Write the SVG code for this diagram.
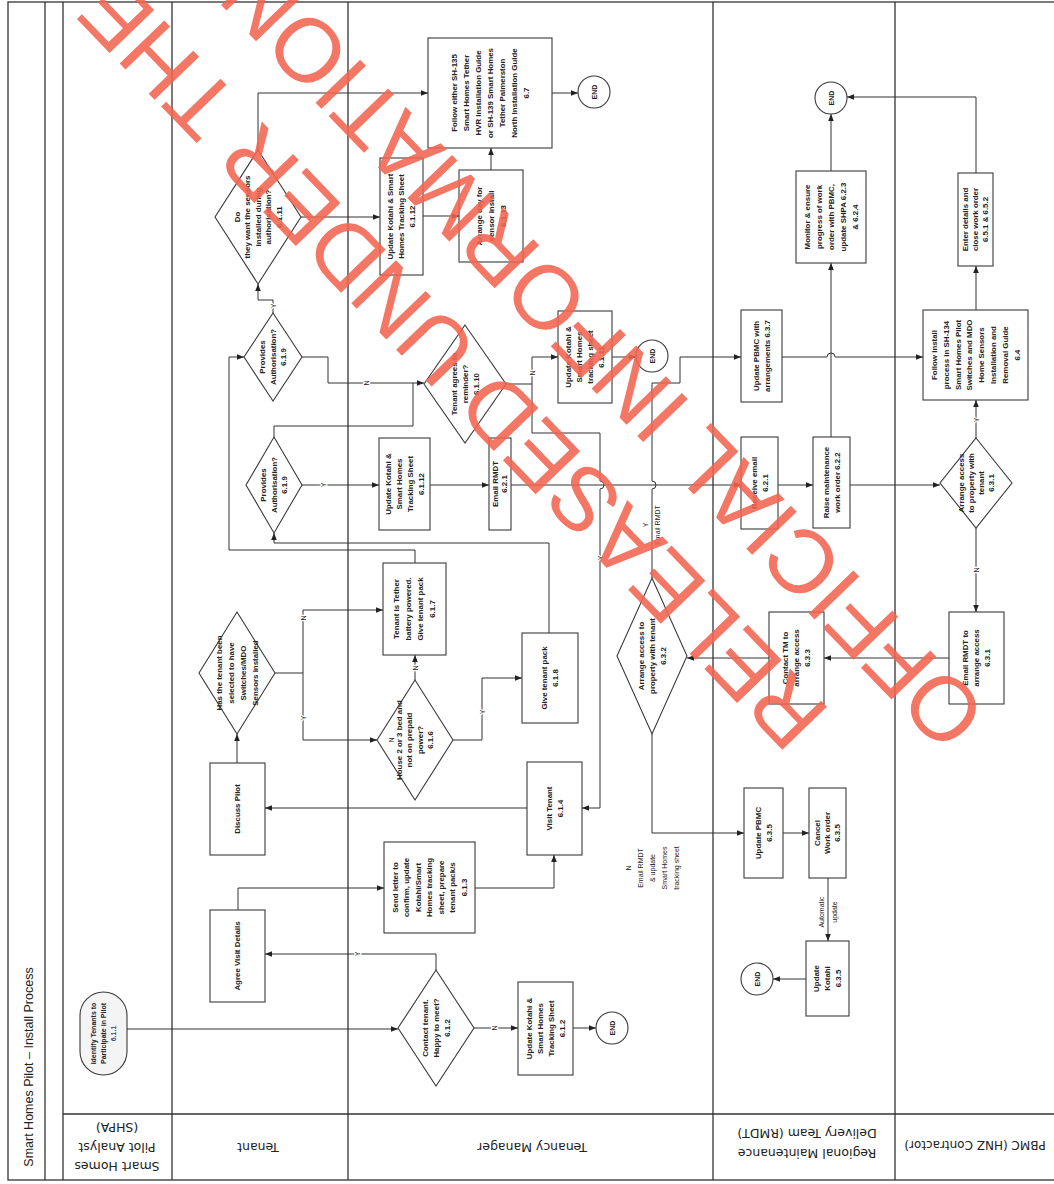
<svg xmlns="http://www.w3.org/2000/svg" width="1054" height="1184" viewBox="0 0 1054 1184">
<defs>
<marker id="a" viewBox="0 0 10 10" refX="10" refY="5" markerWidth="7" markerHeight="7" orient="auto" markerUnits="userSpaceOnUse"><path d="M0,1 L10,5 L0,9 z" fill="#222"/></marker>
</defs>
<style>
.frame{fill:none;stroke:#333;stroke-width:1.3}
.n{fill:#fff;stroke:#3a3a3a;stroke-width:1.1}
.t{font-family:"Liberation Sans",Arial,sans-serif;font-size:7.9px;font-weight:bold;fill:#222;text-anchor:middle}
.h{font-family:"DejaVu Sans",Verdana,sans-serif;font-size:12.5px;fill:#222;text-anchor:middle}
.c{fill:none;stroke:#333;stroke-width:1}
.c.ar{marker-end:url(#a)}
.l{font-family:"Liberation Sans",Arial,sans-serif;font-size:7px;fill:#222;text-anchor:middle;stroke:#fff;stroke-width:2.5px;paint-order:stroke;stroke-linejoin:round}
.e{font-family:"Liberation Sans",Arial,sans-serif;font-size:7px;font-weight:bold;fill:#222;text-anchor:middle}
.wm{font-family:"Liberation Sans",Arial,sans-serif;font-size:90px;fill:#f2634f;fill-opacity:0.88}
</style>
<rect width="1054" height="1184" fill="#fff"/>
<g id="lanes">
<rect class="frame" x="8" y="2" width="1060" height="1178" stroke-width="1.8"/>
<line class="frame" x1="45" y1="2" x2="45" y2="1180"/>
<line class="frame" x1="63" y1="2" x2="63" y2="1180"/>
<line class="frame" x1="172" y1="2" x2="172" y2="1180"/>
<line class="frame" x1="348" y1="2" x2="348" y2="1180"/>
<line class="frame" x1="713" y1="2" x2="713" y2="1180"/>
<line class="frame" x1="895" y1="2" x2="895" y2="1180"/>
<line class="frame" x1="63" y1="1114" x2="1060" y2="1114" stroke-width="1.8"/>
<text class="h" transform="translate(28,1067) rotate(-90)" y="4.5" style="font-family:'Liberation Sans',Arial,sans-serif;font-size:12.5px">Smart Homes Pilot – Install Process</text>
<text class="h" transform="translate(117,1147) rotate(180)"><tspan x="0" y="-15">Smart Homes</tspan><tspan x="0" y="4.5">Pilot Analyst</tspan><tspan x="0" y="24">(SHPA)</tspan></text>
<text class="h" transform="translate(258,1147) rotate(180)" y="4.5">Tenant</text>
<text class="h" transform="translate(532,1147) rotate(180)" y="4.5">Tenancy Manager</text>
<text class="h" transform="translate(807,1143) rotate(180)"><tspan x="0" y="-5.5">Regional Maintenance</tspan><tspan x="0" y="14.5">Delivery Team (RMDT)</tspan></text>
<text class="h" transform="translate(975,1145) rotate(180)" y="4.5" style="font-size:12px">PBMC (HNZ Contractor)</text>
</g>
<g id="connectors">
<path class="c ar" d="M127,1029 H398"/>
<path class="c ar" d="M436,970 V954 H265"/>
<path class="c ar" d="M474,1028 H518"/>
<path class="c ar" d="M573,1028 H596"/>
<path class="c ar" d="M238,910 V888 H384"/>
<path class="c ar" d="M475,888 H554 V855"/>
<path class="c ar" d="M527,808 H265"/>
<path class="c ar" d="M237,763 V734"/>
<path class="c ar" d="M275,673 H303 V610 H383"/>
<path class="c ar" d="M303,673 V740 H377"/>
<path class="c ar" d="M415,680 V655"/>
<path class="c ar" d="M453,740 H482 V678 H522"/>
<path class="c ar" d="M415,563 V550 H229 V357 H244"/>
<path class="c ar" d="M549,633 V543 H274 V533"/>
<path class="c ar" d="M302,485 H379"/>
<path class="c" d="M274,437 V426 H413 V383"/>
<path class="c ar" d="M302,357 H328 V383 H424"/>
<path class="c ar" d="M273,313 V300 H258 V284"/>
<path class="c ar" d="M258,150 V93 H428"/>
<path class="c ar" d="M301,217 H380"/>
<path class="c ar" d="M423,216 H459"/>
<path class="c ar" d="M491,170 V148"/>
<path class="c ar" d="M552,93 H578"/>
<path class="c ar" d="M506,384 H532 V357 H558"/>
<path class="c ar" d="M532,384 V433 H600 V481 A4,4 0 0 1 600,489 V808 H582"/>
<path class="c ar" d="M612,357 H636"/>
<path class="c ar" d="M430,485 H489"/>
<path class="c ar" d="M511,485 H741"/>
<path class="c ar" d="M778,485 H813"/>
<path class="c ar" d="M850,485 H940"/>
<path class="c ar" d="M831,437 V263"/>
<path class="c ar" d="M831,171 V114"/>
<path class="c ar" d="M976,438 V400"/>
<path class="c ar" d="M976,310 V266"/>
<path class="c ar" d="M976,173 V97 H847"/>
<path class="c ar" d="M782,357 H827 A4,4 0 0 1 835,357 H923"/>
<path class="c ar" d="M652,578 V489 A4,4 0 0 0 652,481 V383 H680 V357 H741"/>
<path class="c ar" d="M652,734 V833 H744"/>
<path class="c ar" d="M783,833 H809"/>
<path class="c ar" d="M828,878 V941"/>
<path class="c ar" d="M806,979 H773"/>
<path class="c ar" d="M949,658 H824"/>
<path class="c ar" d="M769,658 H687"/>
<path class="c ar" d="M976,528 V612"/>
<text class="l" transform="translate(357,954) rotate(-90)" y="2.5">Y</text>
<text class="l" transform="translate(494,1028) rotate(-90)" y="2.5">N</text>
<text class="l" transform="translate(303,618) rotate(-90)" y="2.5">N</text>
<text class="l" transform="translate(303,718) rotate(-90)" y="2.5">Y</text>
<text class="l" transform="translate(415,668) rotate(-90)" y="2.5">N</text>
<text class="l" transform="translate(482,712) rotate(-90)" y="2.5">Y</text>
<text class="l" transform="translate(323,485) rotate(-90)" y="2.5">Y</text>
<text class="l" transform="translate(366,383) rotate(-90)" y="2.5">N</text>
<text class="l" transform="translate(273,306) rotate(-90)" y="2.5">Y</text>
<text class="l" transform="translate(532,373) rotate(-90)" y="2.5">N</text>
<text class="l" transform="translate(600,558) rotate(-90)" y="2.5">Y</text>
<text class="l" transform="translate(652,525) rotate(-90)"><tspan x="0" y="-4">Y</tspan><tspan x="0" y="8">Email RMDT</tspan></text>
<text class="l" transform="translate(652,868) rotate(-90)"><tspan x="0" y="-21.5">N</tspan><tspan x="0" y="-9.5">Email RMDT</tspan><tspan x="0" y="2.5">&amp; update</tspan><tspan x="0" y="14.5">Smart Homes</tspan><tspan x="0" y="26.5">tracking sheet</tspan></text>
<text class="l" transform="translate(828,912) rotate(-90)"><tspan x="0" y="-4.5">Automatic</tspan><tspan x="0" y="8.5">update</tspan></text>
<text class="l" transform="translate(976,420) rotate(-90)" y="2.5">Y</text>
<text class="l" transform="translate(976,570) rotate(-90)" y="2.5">N</text>
</g>
<g id="n611"><rect x="80" y="992" width="47" height="83" rx="23.5" ry="23.5" fill="#f4f4f4" stroke="#3a3a3a" stroke-width="1.1"/><text class="t" style="font-size:7px" transform="translate(103.5,1033.5) rotate(-90)"><tspan x="0" y="-7.3">Identify Tenants to</tspan><tspan x="0" y="2.7">Participate in Pilot</tspan><tspan x="0" y="12.7" fill="#2a4f8a">6.1.1</tspan></text></g>
<g id="nAgree"><rect class="n" x="210" y="910" width="55" height="92"/><text class="t" transform="translate(237.5,956) rotate(-90)" y="2.7">Agree Visit Details</text></g>
<g id="nDiscuss"><rect class="n" x="210" y="763" width="55" height="92"/><text class="t" transform="translate(237.5,809) rotate(-90)" y="2.7">Discuss Pilot</text></g>
<g id="nSel"><path class="n" d="M237,612 L275,673 L237,734 L199,673 Z"/><text class="t" transform="translate(237,673) rotate(-90)"><tspan x="0" y="-15.3">Has the tenant been</tspan><tspan x="0" y="-3.3">selected to have</tspan><tspan x="0" y="8.7">Switches/MDO</tspan><tspan x="0" y="20.7">Sensors installed</tspan></text></g>
<g id="n619a"><path class="n" d="M273,313 L302,357 L273,401 L244,357 Z"/><text class="t" transform="translate(273,357) rotate(-90)"><tspan x="0" y="-7.8">Provides</tspan><tspan x="0" y="2.7">Authorisation?</tspan><tspan x="0" y="13.2">6.1.9</tspan></text></g>
<g id="n619b"><path class="n" d="M274,437 L302,485 L274,533 L246,485 Z"/><text class="t" transform="translate(274,485) rotate(-90)"><tspan x="0" y="-7.8">Provides</tspan><tspan x="0" y="2.7">Authorisation?</tspan><tspan x="0" y="13.2">6.1.9</tspan></text></g>
<g id="n6111"><path class="n" d="M258,150 L301,217 L258,284 L215,217 Z"/><text class="t" transform="translate(258,217) rotate(-90)"><tspan x="0" y="-18.3">Do</tspan><tspan x="0" y="-7.8">they want the sensors</tspan><tspan x="0" y="2.7">installed during</tspan><tspan x="0" y="13.2">authorisation?</tspan><tspan x="0" y="23.7">6.1.11</tspan></text></g>
<g id="n612d"><path class="n" d="M436,970 L474,1028 L436,1086 L398,1028 Z"/><text class="t" transform="translate(436,1028) rotate(-90)"><tspan x="0" y="-8.3">Contact tenant.</tspan><tspan x="0" y="2.7">Happy to meet?</tspan><tspan x="0" y="13.7">6.1.2</tspan></text></g>
<g id="n612b"><rect class="n" x="518" y="982" width="55" height="93"/><text class="t" transform="translate(545.5,1028.5) rotate(-90)"><tspan x="0" y="-13.8">Update Kotahi &amp;</tspan><tspan x="0" y="-2.8">Smart Homes</tspan><tspan x="0" y="8.2">Tracking Sheet</tspan><tspan x="0" y="19.2">6.1.2</tspan></text></g>
<g id="nEnd1"><circle class="n" cx="612" cy="1028" r="16"/><text class="e" transform="translate(612,1028) rotate(-90)" y="2.5">END</text></g>
<g id="n613"><rect class="n" x="384" y="842" width="91" height="91"/><text class="t" transform="translate(429.5,887.5) rotate(-90)"><tspan x="0" y="-31.8">Send letter to</tspan><tspan x="0" y="-20.3">confirm, update</tspan><tspan x="0" y="-8.8">Kotahi/Smart</tspan><tspan x="0" y="2.7">Homes tracking</tspan><tspan x="0" y="14.2">sheet, prepare</tspan><tspan x="0" y="25.7">tenant pack/s</tspan><tspan x="0" y="37.2">6.1.3</tspan></text></g>
<g id="n614"><rect class="n" x="527" y="762" width="55" height="93"/><text class="t" transform="translate(554.5,808.5) rotate(-90)"><tspan x="0" y="-2.8">Visit Tenant</tspan><tspan x="0" y="8.2">6.1.4</tspan></text></g>
<g id="n616"><path class="n" d="M415,680 L453,740 L415,800 L377,740 Z"/><text class="t" transform="translate(415,740) rotate(-90)"><tspan x="0" y="-13.05">House 2 or 3 bed and</tspan><tspan x="0" y="-2.55">not on prepaid</tspan><tspan x="0" y="7.95">power?</tspan><tspan x="0" y="18.45">6.1.6</tspan></text><text class="t" transform="translate(391,740) rotate(-90)" y="2.5" style="font-weight:normal;font-size:6.5px">N</text></g>
<g id="n617"><rect class="n" x="383" y="563" width="63" height="92"/><text class="t" transform="translate(414.5,609) rotate(-90)"><tspan x="0" y="-15.3">Tenant is Tether</tspan><tspan x="0" y="-3.3">battery powered.</tspan><tspan x="0" y="8.7">Give tenant pack</tspan><tspan x="0" y="20.7">6.1.7</tspan></text></g>
<g id="n618"><rect class="n" x="522" y="633" width="56" height="90"/><text class="t" transform="translate(550,678) rotate(-90)"><tspan x="0" y="-2.8">Give tenant pack</tspan><tspan x="0" y="8.2">6.1.8</tspan></text></g>
<g id="n6112b"><rect class="n" x="379" y="438" width="51" height="92"/><text class="t" transform="translate(404.5,484) rotate(-90)"><tspan x="0" y="-13.8">Update Kotahi &amp;</tspan><tspan x="0" y="-2.8">Smart Homes</tspan><tspan x="0" y="8.2">Tracking Sheet</tspan><tspan x="0" y="19.2">6.1.12</tspan></text></g>
<g id="n621"><rect class="n" x="489" y="438" width="22" height="92"/><text class="t" transform="translate(500,484) rotate(-90)"><tspan x="0" y="-1.8">Email RMDT</tspan><tspan x="0" y="7.2">6.2.1</tspan></text></g>
<g id="n6110"><path class="n" d="M465,325 L506,384 L465,443 L424,384 Z"/><text class="t" transform="translate(465,384) rotate(-90)"><tspan x="0" y="-8.3">Tenant agrees to</tspan><tspan x="0" y="2.7">reminder?</tspan><tspan x="0" y="13.7">6.1.10</tspan></text></g>
<g id="n6111b"><rect class="n" x="558" y="311" width="54" height="92"/><text class="t" transform="translate(585,357) rotate(-90)"><tspan x="0" y="-13.8">Update Kotahi &amp;</tspan><tspan x="0" y="-2.8">Smart Homes</tspan><tspan x="0" y="8.2">tracking sheet</tspan><tspan x="0" y="19.2">6.1.11</tspan></text></g>
<g id="nEnd2"><circle class="n" cx="652" cy="356" r="16"/><text class="e" transform="translate(652,356) rotate(-90)" y="2.5">END</text></g>
<g id="n6112a"><rect class="n" x="380" y="158" width="43" height="117"/><text class="t" transform="translate(401.5,216.5) rotate(-90)"><tspan x="0" y="-8.3">Update Kotahi &amp; Smart</tspan><tspan x="0" y="2.7">Homes Tracking Sheet</tspan><tspan x="0" y="13.7">6.1.12</tspan></text></g>
<g id="n6113"><rect class="n" x="459" y="170" width="64" height="92"/><text class="t" transform="translate(491,216) rotate(-90)"><tspan x="0" y="-9.3">Arrange day for</tspan><tspan x="0" y="2.7">sensor install</tspan><tspan x="0" y="14.7">6.1.13</tspan></text></g>
<g id="n67"><rect class="n" x="428" y="38" width="124" height="110"/><text class="t" transform="translate(490,93) rotate(-90)"><tspan x="0" y="-33.3">Follow either SH-135</tspan><tspan x="0" y="-21.3">Smart Homes Tether</tspan><tspan x="0" y="-9.3">HVR Installation Guide</tspan><tspan x="0" y="2.7">or SH-139 Smart Homes</tspan><tspan x="0" y="14.7">Tether Palmerston</tspan><tspan x="0" y="26.7">North Installation Guide</tspan><tspan x="0" y="38.7">6.7</tspan></text></g>
<g id="nEnd3"><circle class="n" cx="594" cy="92" r="16"/><text class="e" transform="translate(594,92) rotate(-90)" y="2.5">END</text></g>
<g id="n632"><path class="n" d="M652,578 L687,656 L652,734 L617,656 Z"/><text class="t" transform="translate(652,656) rotate(-90)"><tspan x="0" y="-8.3">Arrange access to</tspan><tspan x="0" y="2.7">property with tenant</tspan><tspan x="0" y="13.7">6.3.2</tspan></text></g>
<g id="n637"><rect class="n" x="741" y="310" width="41" height="92"/><text class="t" transform="translate(761.5,356) rotate(-90)"><tspan x="0" y="-2.8">Update PBMC with</tspan><tspan x="0" y="8.2">arrangements 6.3.7</tspan></text></g>
<g id="nRecv"><rect class="n" x="741" y="437" width="37" height="92"/><text class="t" transform="translate(759.5,483) rotate(-90)"><tspan x="0" y="-2.8">Receive email</tspan><tspan x="0" y="8.2">6.2.1</tspan></text></g>
<g id="n622"><rect class="n" x="813" y="437" width="37" height="91"/><text class="t" transform="translate(831.5,482.5) rotate(-90)"><tspan x="0" y="-2.8">Raise maintenance</tspan><tspan x="0" y="8.2">work order 6.2.2</tspan></text></g>
<g id="n623"><rect class="n" x="796" y="171" width="70" height="92"/><text class="t" transform="translate(831,217) rotate(-90)"><tspan x="0" y="-21.3">Monitor &amp; ensure</tspan><tspan x="0" y="-9.3">progress of work</tspan><tspan x="0" y="2.7">order with PBMC,</tspan><tspan x="0" y="14.7">update SHPA 6.2.3</tspan><tspan x="0" y="26.7">&amp; 6.2.4</tspan></text></g>
<g id="nEnd4"><circle class="n" cx="831" cy="98" r="16"/><text class="e" transform="translate(831,98) rotate(-90)" y="2.5">END</text></g>
<g id="n633"><rect class="n" x="769" y="612" width="55" height="92"/><text class="t" transform="translate(796.5,658) rotate(-90)"><tspan x="0" y="-8.3">Contact TM to</tspan><tspan x="0" y="2.7">arrange access</tspan><tspan x="0" y="13.7">6.3.3</tspan></text></g>
<g id="n635a"><rect class="n" x="744" y="788" width="39" height="90"/><text class="t" transform="translate(763.5,833) rotate(-90)"><tspan x="0" y="-2.8">Update PBMC</tspan><tspan x="0" y="8.2">6.3.5</tspan></text></g>
<g id="n635b"><rect class="n" x="809" y="788" width="37" height="90"/><text class="t" transform="translate(827.5,833) rotate(-90)"><tspan x="0" y="-7.3">Cancel</tspan><tspan x="0" y="2.7">Work order</tspan><tspan x="0" y="12.7">6.3.5</tspan></text></g>
<g id="n635c"><rect class="n" x="806" y="941" width="43" height="75"/><text class="t" transform="translate(827.5,978.5) rotate(-90)"><tspan x="0" y="-8.3">Update</tspan><tspan x="0" y="2.7">Kotahi</tspan><tspan x="0" y="13.7">6.3.5</tspan></text></g>
<g id="nEnd5"><circle class="n" cx="757" cy="979" r="16"/><text class="e" transform="translate(757,979) rotate(-90)" y="2.5">END</text></g>
<g id="n631"><path class="n" d="M976,438 L1012,483 L976,528 L940,483 Z"/><text class="t" transform="translate(976,483) rotate(-90)"><tspan x="0" y="-12.3">Arrange access</tspan><tspan x="0" y="-2.3">to property with</tspan><tspan x="0" y="7.7">tenant</tspan><tspan x="0" y="17.7">6.3.1</tspan></text></g>
<g id="n64"><rect class="n" x="923" y="310" width="105" height="90"/><text class="t" transform="translate(975.5,355) rotate(-90)"><tspan x="0" y="-38.6">Follow install</tspan><tspan x="0" y="-26.8">process in SH-134</tspan><tspan x="0" y="-15">Smart Homes Pilot</tspan><tspan x="0" y="-3.2">Switches and MDO</tspan><tspan x="0" y="8.6">Home Sensors</tspan><tspan x="0" y="20.4">Installation and</tspan><tspan x="0" y="32.2">Removal Guide</tspan><tspan x="0" y="44">6.4</tspan></text></g>
<g id="n65"><rect class="n" x="958" y="173" width="35" height="93"/><text class="t" transform="translate(975.5,219.5) rotate(-90)"><tspan x="0" y="-7.3">Enter details and</tspan><tspan x="0" y="2.7">close work order</tspan><tspan x="0" y="12.7">6.5.1 &amp; 6.5.2</tspan></text></g>
<g id="n631b"><rect class="n" x="949" y="612" width="55" height="92"/><text class="t" transform="translate(976.5,658) rotate(-90)"><tspan x="0" y="-8.3">Email RMDT to</tspan><tspan x="0" y="2.7">arrange access</tspan><tspan x="0" y="13.7">6.3.1</tspan></text></g>
<g id="watermark">
<text class="wm" transform="translate(832,712) rotate(-134)">RELEASED UNDER THE</text>
<text class="wm" transform="translate(990,712) rotate(-134)">OFFICIAL INFORMATION ACT</text>
</g>
</svg>
